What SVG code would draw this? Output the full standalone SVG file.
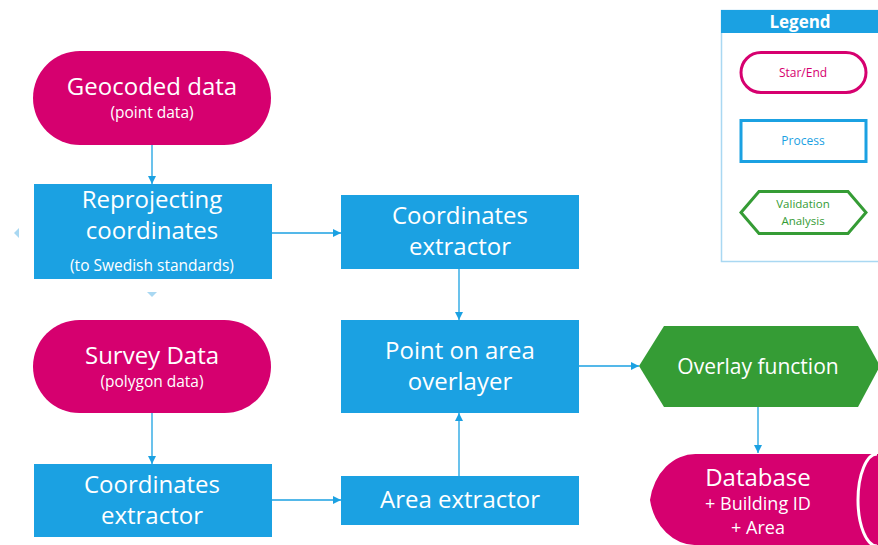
<svg xmlns="http://www.w3.org/2000/svg" width="878" height="545" viewBox="0 0 878 545">
<defs>
<style>
text{font-family:"Open Sans","Noto Sans","DejaVu Sans",sans-serif;text-anchor:middle;fill:#fff}
.pink{fill:#D6006F}
.blue{fill:#1BA1E2}
.green{fill:#359C35}
.big{font-size:24px}
.sm{font-size:15.5px}
.con{stroke:#1BA1E2;stroke-width:1.3;fill:none;marker-end:url(#ah)}
</style>
<marker id="ah" viewBox="0 0 10 10" refX="10" refY="5" markerWidth="8" markerHeight="8" markerUnits="userSpaceOnUse" orient="auto">
<path d="M0,0L10,5L0,10z" fill="#1BA1E2"/>
</marker>
</defs>
<rect width="878" height="545" fill="#fff"/>
<g id="connectors">
<line class="con" x1="152" y1="145" x2="152" y2="184"/>
<line class="con" x1="272" y1="233" x2="341" y2="233"/>
<line class="con" x1="459" y1="269" x2="459" y2="320"/>
<line class="con" x1="152" y1="413" x2="152" y2="464"/>
<line class="con" x1="272" y1="500" x2="341" y2="500"/>
<line class="con" x1="459" y1="476" x2="459" y2="413"/>
<line class="con" x1="579" y1="366" x2="639" y2="366"/>
<line class="con" x1="758" y1="407" x2="758" y2="453"/>
<path d="M19,228L14,233L19,238z" fill="#A9D8F2"/>
<path d="M147,292L157,292L152,297z" fill="#A9D8F2"/>
</g>
<g id="geocoded">
<rect class="pink" x="33" y="51" width="238" height="94" rx="47"/>
<text class="big" x="152" y="95">Geocoded data</text>
<text class="sm" x="152" y="118">(point data)</text>
</g>
<g id="reprojecting">
<rect class="blue" x="34" y="184" width="238" height="95"/>
<text class="big" x="152" y="208">Reprojecting</text>
<text class="big" x="152" y="239">coordinates</text>
<text class="sm" x="152" y="271">(to Swedish standards)</text>
</g>
<g id="coord-extractor-top">
<rect class="blue" x="341" y="195" width="238" height="74"/>
<text class="big" x="460" y="224">Coordinates</text>
<text class="big" x="460" y="255">extractor</text>
</g>
<g id="point-on-area">
<rect class="blue" x="341" y="320" width="238" height="93"/>
<text class="big" x="460" y="359">Point on area</text>
<text class="big" x="460" y="390">overlayer</text>
</g>
<g id="survey">
<rect class="pink" x="33" y="320" width="238" height="93" rx="46.5"/>
<text class="big" x="152" y="364">Survey Data</text>
<text class="sm" x="152" y="387">(polygon data)</text>
</g>
<g id="coord-extractor-bottom">
<rect class="blue" x="34" y="464" width="238" height="73"/>
<text class="big" x="152" y="493">Coordinates</text>
<text class="big" x="152" y="524">extractor</text>
</g>
<g id="area-extractor">
<rect class="blue" x="341" y="476" width="238" height="49"/>
<text class="big" x="460" y="508">Area extractor</text>
</g>
<g id="overlay">
<polygon class="green" points="639,366 664,326 858,326 880,366 858,407 664,407"/>
<text x="758" y="374" style="font-size:21px">Overlay function</text>
</g>
<g id="database">
<path class="pink" d="M696,454L890,454L890,545L696,545A46,55 0 0 1 650,500A46,55 0 0 1 696,454z"/>
<path d="M877,454A19,46 0 0 0 877,546" fill="none" stroke="#fff" stroke-width="3"/>
<text class="big" x="758" y="486">Database</text>
<text x="758" y="510" style="font-size:18px">+ Building ID</text>
<text x="758" y="534" style="font-size:18px">+ Area</text>
</g>
<g id="legend">
<rect x="721.5" y="10.5" width="160" height="251" fill="#fff" stroke="#A9D8F2" stroke-width="1.5"/>
<rect class="blue" x="721" y="10" width="157" height="23"/>
<text x="800" y="28" style="font-size:17px;font-weight:bold">Legend</text>
<rect x="741" y="52.5" width="125" height="40" rx="20" fill="#fff" stroke="#D6006F" stroke-width="3"/>
<text x="803" y="77" style="font-size:12px;fill:#D6006F">Star/End</text>
<rect x="741" y="120.5" width="125" height="41" fill="#fff" stroke="#1BA1E2" stroke-width="3"/>
<text x="803" y="145" style="font-size:12px;fill:#1BA1E2">Process</text>
<polygon points="741,212.5 759,191.5 848,191.5 866,212.5 848,233.5 759,233.5" fill="#fff" stroke="#359C35" stroke-width="3"/>
<text x="803" y="208" style="font-size:11.5px;fill:#359C35">Validation</text>
<text x="803" y="225" style="font-size:11.5px;fill:#359C35">Analysis</text>
</g>
</svg>
